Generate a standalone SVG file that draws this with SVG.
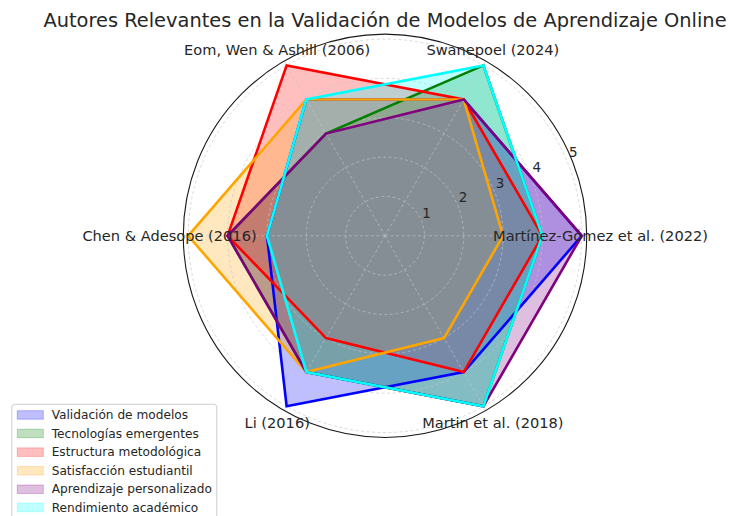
<svg xmlns="http://www.w3.org/2000/svg" width="729" height="516" viewBox="0 0 729 516">
<style>
text{font-family:"DejaVu Sans","Liberation Sans",sans-serif;fill:#262626}
.ax{font-size:14.6px;text-anchor:middle;dominant-baseline:central}
.rl{font-size:13.5px;text-anchor:middle;dominant-baseline:central}
.lg{font-size:12.15px;dominant-baseline:central}
.grid{fill:none;stroke:#c4c4c4;stroke-width:0.8;stroke-dasharray:3 2.5;opacity:0.8}
.fl{fill-opacity:0.25;stroke:none}
.ln{fill:none;stroke-width:2.6;stroke-linejoin:miter}
.b{fill:#0000ff;stroke:#0000ff}.g{fill:#008000;stroke:#008000}.r{fill:#ff0000;stroke:#ff0000}
.o{fill:#ffa500;stroke:#ffa500}.p{fill:#800080;stroke:#800080}.c{fill:#00ffff;stroke:#00ffff}
.lp{fill-opacity:0.25;stroke-opacity:0.25}
</style>
<rect width="729" height="516" fill="#ffffff"/>
<text x="385" y="27" style="font-size:19.4px;text-anchor:middle">Autores Relevantes en la Validación de Modelos de Aprendizaje Online</text>
<g id="fills">
<polygon class="fl b" points="581.75,235.8 463.7,99.49 306.3,99.49 266.95,235.8 286.63,406.19 463.7,372.11"/>
<polygon class="fl g" points="542.4,235.8 483.38,65.41 325.98,133.57 227.6,235.8 306.3,372.11 483.38,406.19"/>
<polygon class="fl r" points="542.4,235.8 463.7,99.49 286.63,65.41 227.6,235.8 325.98,338.03 463.7,372.11"/>
<polygon class="fl o" points="503.05,235.8 463.7,99.49 306.3,99.49 188.25,235.8 306.3,372.11 444.03,338.03"/>
<polygon class="fl p" points="581.75,235.8 463.7,99.49 325.98,133.57 227.6,235.8 306.3,372.11 483.38,406.19"/>
<polygon class="fl c" points="542.4,235.8 483.38,65.41 306.3,99.49 266.95,235.8 306.3,372.11 483.38,406.19"/>
</g>
<g id="grid">
<circle class="grid" cx="385" cy="235.8" r="39.35"/>
<circle class="grid" cx="385" cy="235.8" r="78.7"/>
<circle class="grid" cx="385" cy="235.8" r="118.05"/>
<circle class="grid" cx="385" cy="235.8" r="157.4"/>
<circle class="grid" cx="385" cy="235.8" r="196.75"/>
<path class="grid" d="M385,235.8L586.7,235.8M385,235.8L485.85,61.1M385,235.8L284.15,61.1M385,235.8L183.3,235.8M385,235.8L284.15,410.5M385,235.8L485.85,410.5"/>
</g>
<circle id="spine" cx="385" cy="235.8" r="201.7" fill="none" stroke="#1a1a1a" stroke-width="1.1"/>
<g id="connectors">
<polygon class="ln b" style="fill:none" points="581.75,235.8 463.7,99.49 306.3,99.49 266.95,235.8 286.63,406.19 463.7,372.11"/>
<polygon class="ln g" style="fill:none" points="542.4,235.8 483.38,65.41 325.98,133.57 227.6,235.8 306.3,372.11 483.38,406.19"/>
<polygon class="ln r" style="fill:none" points="542.4,235.8 463.7,99.49 286.63,65.41 227.6,235.8 325.98,338.03 463.7,372.11"/>
<polygon class="ln o" style="fill:none" points="503.05,235.8 463.7,99.49 306.3,99.49 188.25,235.8 306.3,372.11 444.03,338.03"/>
<polygon class="ln p" style="fill:none" points="581.75,235.8 463.7,99.49 325.98,133.57 227.6,235.8 306.3,372.11 483.38,406.19"/>
<polygon class="ln c" style="fill:none" points="542.4,235.8 483.38,65.41 306.3,99.49 266.95,235.8 306.3,372.11 483.38,406.19"/>
</g>
<g id="rlabels">
<text class="rl" x="426.5" y="212.5">1</text>
<text class="rl" x="463" y="197.3">2</text>
<text class="rl" x="500" y="182.5">3</text>
<text class="rl" x="536.8" y="166.8">4</text>
<text class="rl" x="573.3" y="151.7">5</text>
</g>
<g id="axis-martinez-gomez"><text class="ax" x="600.5" y="235.8">Martínez-Gómez et al. (2022)</text></g>
<g id="axis-swanepoel"><text class="ax" x="492.8" y="49">Swanepoel (2024)</text></g>
<g id="axis-eom"><text class="ax" x="277.2" y="49">Eom, Wen &amp; Ashill (2006)</text></g>
<g id="axis-chen"><text class="ax" x="169.5" y="235.8">Chen &amp; Adesope (2016)</text></g>
<g id="axis-li"><text class="ax" x="277.2" y="422.4">Li (2016)</text></g>
<g id="axis-martin"><text class="ax" x="492.8" y="422.4">Martin et al. (2018)</text></g>
<g id="legend">
<rect x="11.8" y="404.3" width="205" height="122" rx="3" fill="#ffffff" fill-opacity="0.8" stroke="#cccccc" stroke-width="1"/>
<rect class="b lp" x="17.3" y="410.7" width="26" height="8.5"/>
<text class="lg" x="51.7" y="415">Validación de modelos</text>
<rect class="g lp" x="17.3" y="429.2" width="26" height="8.5"/>
<text class="lg" x="51.7" y="433.5">Tecnologías emergentes</text>
<rect class="r lp" x="17.3" y="447.9" width="26" height="8.5"/>
<text class="lg" x="51.7" y="452.2">Estructura metodológica</text>
<rect class="o lp" x="17.3" y="466.5" width="26" height="8.5"/>
<text class="lg" x="51.7" y="470.8">Satisfacción estudiantil</text>
<rect class="p lp" x="17.3" y="485" width="26" height="8.5"/>
<text class="lg" x="51.7" y="489.3">Aprendizaje personalizado</text>
<rect class="c lp" x="17.3" y="503.2" width="26" height="8.5"/>
<text class="lg" x="51.7" y="507.5">Rendimiento académico</text>
</g>
</svg>
